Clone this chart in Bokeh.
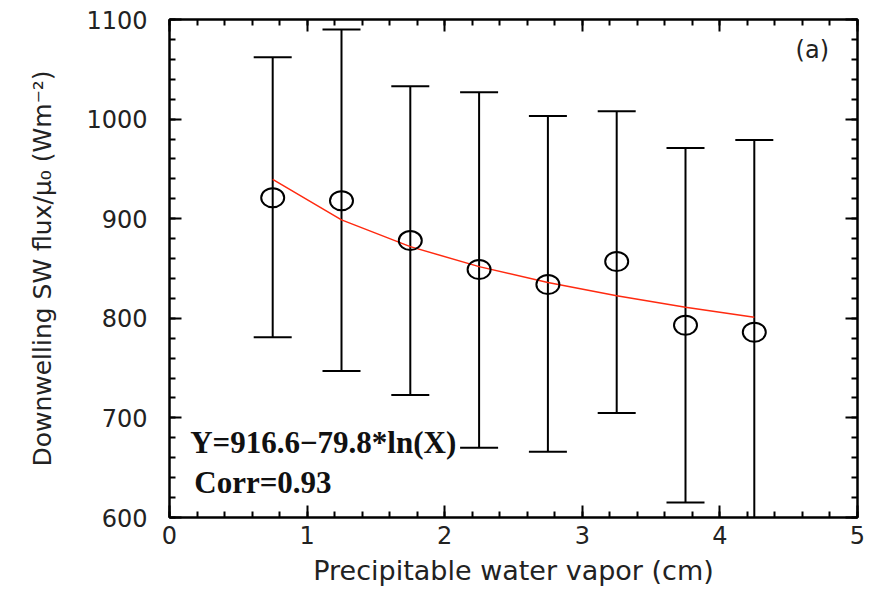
import numpy as np
from bokeh.plotting import figure
from bokeh.models import LinearAxis, SingleIntervalTicker, Range1d, ColumnDataSource, Label
from bokeh.embed import file_html
from bokeh.resources import INLINE

# Binned precipitable water vapor (cm) and mean / ±1 sd of SW flux normalised by mu0
pwv = [0.75, 1.25, 1.75, 2.25, 2.75, 3.25, 3.75, 4.25]
flux_mean = [921, 918, 878, 849, 834, 857, 793, 786]
flux_upper = [1062, 1090, 1033, 1027, 1003, 1008, 971, 979]
flux_lower = [781, 747, 723, 670, 666, 705, 615, 593]

# Logarithmic fit Y = a + b*ln(X)
fit_a = 916.6
fit_b = -79.8
fit_label = "Y=916.6\u221279.8*ln(X)"
corr_label = "Corr=0.93"

fit_y = [fit_a + fit_b * np.log(x) for x in pwv]

src = ColumnDataSource(dict(x=pwv, y=flux_mean, up=flux_upper, lo=flux_lower, fit=fit_y))

TICK_FONT = "DejaVu Sans"
TEXT_COLOR = "#222222"

p = figure(width=869, height=594, output_backend="svg", toolbar_location=None,
           x_range=Range1d(0, 5), y_range=Range1d(600, 1100),
           min_border_left=169, min_border_top=19, min_border_right=12, min_border_bottom=77,
           x_axis_type=None, y_axis_type=None)
p.grid.visible = False
p.outline_line_color = "black"
p.outline_line_width = 2
p.background_fill_color = "white"
p.border_fill_color = "white"


def style_axis(ax, labelled):
    ax.axis_line_color = "black"
    ax.axis_line_width = 2
    ax.major_tick_in = 12
    ax.major_tick_out = 0
    ax.minor_tick_in = 6
    ax.minor_tick_out = 0
    ax.major_tick_line_width = 2
    ax.minor_tick_line_width = 2
    ax.major_tick_line_color = "black"
    ax.minor_tick_line_color = "black"
    if labelled:
        ax.major_label_text_font = TICK_FONT
        ax.major_label_text_font_size = "24px"
        ax.major_label_text_color = TEXT_COLOR
        ax.axis_label_text_font = TICK_FONT
        ax.axis_label_text_font_size = "25px"
        ax.axis_label_text_font_style = "normal"
        ax.axis_label_text_color = TEXT_COLOR
    else:
        ax.major_label_text_font_size = "0px"
        ax.major_label_text_color = None


xticker = SingleIntervalTicker(interval=1, num_minor_ticks=5)
yticker = SingleIntervalTicker(interval=100, num_minor_ticks=5)

xb = LinearAxis(ticker=xticker, axis_label="Precipitable water vapor (cm)")
style_axis(xb, True)
xb.axis_label_text_font_size = "27px"
xb.major_label_standoff = 8
xb.axis_label_standoff = 8
p.add_layout(xb, "below")

yl = LinearAxis(ticker=yticker, axis_label="Downwelling SW flux/\u03bc\u2080 (Wm\u207b\u00b2)")
style_axis(yl, True)
yl.major_label_standoff = 22
yl.axis_label_standoff = 26
p.add_layout(yl, "left")

xt = LinearAxis(ticker=xticker)
style_axis(xt, False)
p.add_layout(xt, "above")

yr = LinearAxis(ticker=yticker)
style_axis(yr, False)
p.add_layout(yr, "right")

# error bars: stems and caps
p.segment(x0="x", y0="lo", x1="x", y1="up", source=src, line_color="black", line_width=2)
p.scatter(x="x", y="up", source=src, marker="dash", size=38, line_color="black", line_width=2)
p.scatter(x="x", y="lo", source=src, marker="dash", size=38, line_color="black", line_width=2)

# fitted curve
p.line(x="x", y="fit", source=src, line_color="#ff2a10", line_width=1.5)

# bin means as open ellipses
p.ellipse(x="x", y="y", width=23, height=19, width_units="screen", height_units="screen",
          source=src, fill_color=None, line_color="black", line_width=2)

p.add_layout(Label(x=0.15, y=675, text=fit_label, text_font="Liberation Serif",
                   text_font_style="bold", text_font_size="31px", text_color="#111111",
                   text_baseline="middle"))
p.add_layout(Label(x=0.18, y=635, text=corr_label, text_font="Liberation Serif",
                   text_font_style="bold", text_font_size="31px", text_color="#111111",
                   text_baseline="middle"))
p.add_layout(Label(x=4.55, y=1069, text="(a)", text_font=TICK_FONT,
                   text_font_size="24px", text_color=TEXT_COLOR, text_baseline="middle"))

open("out.html", "w").write(file_html(p, INLINE))
